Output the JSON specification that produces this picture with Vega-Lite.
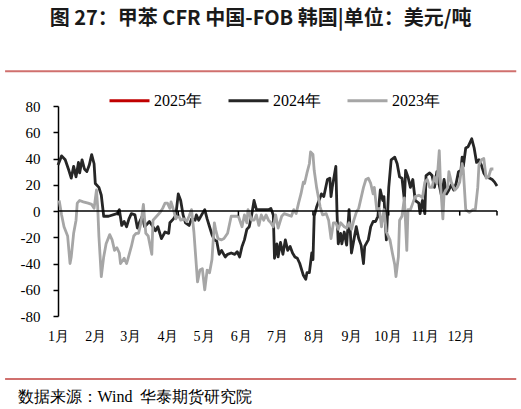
{
  "$schema": "https://vega.github.io/schema/vega-lite/v6.json",
  "width": 439,
  "height": 210,
  "autosize": {"type": "none"},
  "padding": {"left": 58, "top": 106, "right": 24, "bottom": 93},
  "background": "white",
  "title": {
    "text": "图 27：甲苯 CFR 中国-FOB 韩国|单位：美元/吨",
    "font": "Noto Sans CJK SC",
    "fontSize": 20,
    "fontWeight": "bold",
    "color": "#1a1a1a",
    "anchor": "middle",
    "frame": "group",
    "dx": -17,
    "offset": 41
  },
  "datasets": {
    "y2024": [
      {"s": "2024年", "date": "2024/01/01", "v": 35}, {"s": "2024年", "date": "2024/01/04", "v": 42},
      {"s": "2024年", "date": "2024/01/07", "v": 39}, {"s": "2024年", "date": "2024/01/10", "v": 31},
      {"s": "2024年", "date": "2024/01/12", "v": 25}, {"s": "2024年", "date": "2024/01/14", "v": 34},
      {"s": "2024年", "date": "2024/01/16", "v": 26}, {"s": "2024年", "date": "2024/01/18", "v": 37},
      {"s": "2024年", "date": "2024/01/19", "v": 29}, {"s": "2024年", "date": "2024/01/21", "v": 39},
      {"s": "2024年", "date": "2024/01/23", "v": 32}, {"s": "2024年", "date": "2024/01/25", "v": 30},
      {"s": "2024年", "date": "2024/01/27", "v": 35}, {"s": "2024年", "date": "2024/01/29", "v": 43},
      {"s": "2024年", "date": "2024/01/31", "v": 36}, {"s": "2024年", "date": "2024/02/01", "v": 21},
      {"s": "2024年", "date": "2024/02/04", "v": 18}, {"s": "2024年", "date": "2024/02/06", "v": 12},
      {"s": "2024年", "date": "2024/02/08", "v": -4}, {"s": "2024年", "date": "2024/02/12", "v": -4},
      {"s": "2024年", "date": "2024/02/19", "v": -2}, {"s": "2024年", "date": "2024/02/21", "v": 1},
      {"s": "2024年", "date": "2024/02/23", "v": -11}, {"s": "2024年", "date": "2024/02/25", "v": -8},
      {"s": "2024年", "date": "2024/02/27", "v": -12}, {"s": "2024年", "date": "2024/02/29", "v": -6},
      {"s": "2024年", "date": "2024/03/02", "v": -2}, {"s": "2024年", "date": "2024/03/05", "v": -3},
      {"s": "2024年", "date": "2024/03/07", "v": -13}, {"s": "2024年", "date": "2024/03/09", "v": -8},
      {"s": "2024年", "date": "2024/03/11", "v": -4}, {"s": "2024年", "date": "2024/03/13", "v": -12},
      {"s": "2024年", "date": "2024/03/17", "v": -8}, {"s": "2024年", "date": "2024/03/20", "v": -12},
      {"s": "2024年", "date": "2024/03/22", "v": -15}, {"s": "2024年", "date": "2024/03/24", "v": -12},
      {"s": "2024年", "date": "2024/03/27", "v": -21}, {"s": "2024年", "date": "2024/03/30", "v": -16},
      {"s": "2024年", "date": "2024/04/02", "v": -17}, {"s": "2024年", "date": "2024/04/03", "v": -9},
      {"s": "2024年", "date": "2024/04/06", "v": -6}, {"s": "2024年", "date": "2024/04/08", "v": -3},
      {"s": "2024年", "date": "2024/04/10", "v": 13}, {"s": "2024年", "date": "2024/04/12", "v": 8},
      {"s": "2024年", "date": "2024/04/14", "v": -3}, {"s": "2024年", "date": "2024/04/16", "v": -9},
      {"s": "2024年", "date": "2024/04/19", "v": -11}, {"s": "2024年", "date": "2024/04/21", "v": -6},
      {"s": "2024年", "date": "2024/04/24", "v": -7}, {"s": "2024年", "date": "2024/04/25", "v": -3},
      {"s": "2024年", "date": "2024/04/27", "v": -7}, {"s": "2024年", "date": "2024/04/30", "v": -2},
      {"s": "2024年", "date": "2024/05/02", "v": 1}, {"s": "2024年", "date": "2024/05/04", "v": -6},
      {"s": "2024年", "date": "2024/05/06", "v": -12}, {"s": "2024年", "date": "2024/05/08", "v": -18},
      {"s": "2024年", "date": "2024/05/10", "v": -22}, {"s": "2024年", "date": "2024/05/12", "v": -23},
      {"s": "2024年", "date": "2024/05/14", "v": -33}, {"s": "2024年", "date": "2024/05/16", "v": -30},
      {"s": "2024年", "date": "2024/05/19", "v": -35}, {"s": "2024年", "date": "2024/05/21", "v": -33},
      {"s": "2024年", "date": "2024/05/24", "v": -32}, {"s": "2024年", "date": "2024/05/27", "v": -33},
      {"s": "2024年", "date": "2024/05/29", "v": -31}, {"s": "2024年", "date": "2024/05/31", "v": -35},
      {"s": "2024年", "date": "2024/06/02", "v": -27}, {"s": "2024年", "date": "2024/06/04", "v": -22},
      {"s": "2024年", "date": "2024/06/06", "v": -14}, {"s": "2024年", "date": "2024/06/08", "v": -12},
      {"s": "2024年", "date": "2024/06/10", "v": -3}, {"s": "2024年", "date": "2024/06/12", "v": 8},
      {"s": "2024年", "date": "2024/06/14", "v": 1}, {"s": "2024年", "date": "2024/06/18", "v": 1},
      {"s": "2024年", "date": "2024/06/24", "v": 1}, {"s": "2024年", "date": "2024/06/26", "v": 2},
      {"s": "2024年", "date": "2024/06/28", "v": -3}, {"s": "2024年", "date": "2024/06/29", "v": -36},
      {"s": "2024年", "date": "2024/07/01", "v": -25}, {"s": "2024年", "date": "2024/07/02", "v": -35},
      {"s": "2024年", "date": "2024/07/04", "v": -24}, {"s": "2024年", "date": "2024/07/06", "v": -33},
      {"s": "2024年", "date": "2024/07/08", "v": -22}, {"s": "2024年", "date": "2024/07/10", "v": -30},
      {"s": "2024年", "date": "2024/07/12", "v": -27}, {"s": "2024年", "date": "2024/07/14", "v": -32},
      {"s": "2024年", "date": "2024/07/16", "v": -35}, {"s": "2024年", "date": "2024/07/18", "v": -36},
      {"s": "2024年", "date": "2024/07/20", "v": -40}, {"s": "2024年", "date": "2024/07/23", "v": -49},
      {"s": "2024年", "date": "2024/07/25", "v": -52}, {"s": "2024年", "date": "2024/07/26", "v": -47},
      {"s": "2024年", "date": "2024/07/28", "v": -47}, {"s": "2024年", "date": "2024/07/30", "v": -32},
      {"s": "2024年", "date": "2024/07/31", "v": -37}, {"s": "2024年", "date": "2024/08/01", "v": -4},
      {"s": "2024年", "date": "2024/08/03", "v": 3}, {"s": "2024年", "date": "2024/08/05", "v": 8},
      {"s": "2024年", "date": "2024/08/07", "v": 13}, {"s": "2024年", "date": "2024/08/09", "v": 11},
      {"s": "2024年", "date": "2024/08/12", "v": 24}, {"s": "2024年", "date": "2024/08/14", "v": 25},
      {"s": "2024年", "date": "2024/08/15", "v": 11}, {"s": "2024年", "date": "2024/08/16", "v": 18},
      {"s": "2024年", "date": "2024/08/19", "v": 34}, {"s": "2024年", "date": "2024/08/20", "v": -2},
      {"s": "2024年", "date": "2024/08/21", "v": -25}, {"s": "2024年", "date": "2024/08/23", "v": -17},
      {"s": "2024年", "date": "2024/08/24", "v": -25}, {"s": "2024年", "date": "2024/08/26", "v": -16},
      {"s": "2024年", "date": "2024/08/28", "v": -26}, {"s": "2024年", "date": "2024/08/30", "v": 1},
      {"s": "2024年", "date": "2024/09/01", "v": -32}, {"s": "2024年", "date": "2024/09/03", "v": -22},
      {"s": "2024年", "date": "2024/09/05", "v": -12}, {"s": "2024年", "date": "2024/09/07", "v": -21},
      {"s": "2024年", "date": "2024/09/09", "v": -26}, {"s": "2024年", "date": "2024/09/11", "v": -40},
      {"s": "2024年", "date": "2024/09/12", "v": -27}, {"s": "2024年", "date": "2024/09/15", "v": -22},
      {"s": "2024年", "date": "2024/09/17", "v": -12}, {"s": "2024年", "date": "2024/09/19", "v": -8},
      {"s": "2024年", "date": "2024/09/21", "v": -8}, {"s": "2024年", "date": "2024/09/23", "v": -4},
      {"s": "2024年", "date": "2024/09/25", "v": 16}, {"s": "2024年", "date": "2024/09/27", "v": 8},
      {"s": "2024年", "date": "2024/09/28", "v": 11}, {"s": "2024年", "date": "2024/09/30", "v": -22},
      {"s": "2024年", "date": "2024/10/02", "v": 18}, {"s": "2024年", "date": "2024/10/04", "v": 39},
      {"s": "2024年", "date": "2024/10/07", "v": 41}, {"s": "2024年", "date": "2024/10/09", "v": 36},
      {"s": "2024年", "date": "2024/10/11", "v": 26}, {"s": "2024年", "date": "2024/10/13", "v": 25},
      {"s": "2024年", "date": "2024/10/15", "v": 8}, {"s": "2024年", "date": "2024/10/16", "v": 31},
      {"s": "2024年", "date": "2024/10/18", "v": 26}, {"s": "2024年", "date": "2024/10/20", "v": 18},
      {"s": "2024年", "date": "2024/10/22", "v": 24}, {"s": "2024年", "date": "2024/10/24", "v": 8},
      {"s": "2024年", "date": "2024/10/27", "v": 6}, {"s": "2024年", "date": "2024/10/28", "v": -2},
      {"s": "2024年", "date": "2024/10/30", "v": 8}, {"s": "2024年", "date": "2024/11/01", "v": -2},
      {"s": "2024年", "date": "2024/11/02", "v": 27}, {"s": "2024年", "date": "2024/11/05", "v": 29},
      {"s": "2024年", "date": "2024/11/07", "v": 27}, {"s": "2024年", "date": "2024/11/09", "v": 18},
      {"s": "2024年", "date": "2024/11/11", "v": 30}, {"s": "2024年", "date": "2024/11/12", "v": 24},
      {"s": "2024年", "date": "2024/11/15", "v": 11}, {"s": "2024年", "date": "2024/11/17", "v": 24},
      {"s": "2024年", "date": "2024/11/19", "v": 13}, {"s": "2024年", "date": "2024/11/21", "v": 16},
      {"s": "2024年", "date": "2024/11/23", "v": 20}, {"s": "2024年", "date": "2024/11/25", "v": 16},
      {"s": "2024年", "date": "2024/11/27", "v": 21}, {"s": "2024年", "date": "2024/11/29", "v": 30},
      {"s": "2024年", "date": "2024/12/01", "v": 31}, {"s": "2024年", "date": "2024/12/02", "v": 41},
      {"s": "2024年", "date": "2024/12/03", "v": 34}, {"s": "2024年", "date": "2024/12/05", "v": 48},
      {"s": "2024年", "date": "2024/12/07", "v": 49}, {"s": "2024年", "date": "2024/12/10", "v": 55},
      {"s": "2024年", "date": "2024/12/12", "v": 48}, {"s": "2024年", "date": "2024/12/14", "v": 37},
      {"s": "2024年", "date": "2024/12/16", "v": 39}, {"s": "2024年", "date": "2024/12/18", "v": 35},
      {"s": "2024年", "date": "2024/12/20", "v": 29}, {"s": "2024年", "date": "2024/12/22", "v": 26},
      {"s": "2024年", "date": "2024/12/25", "v": 25}, {"s": "2024年", "date": "2024/12/27", "v": 24},
      {"s": "2024年", "date": "2024/12/29", "v": 22}, {"s": "2024年", "date": "2024/12/31", "v": 19}
    ],
    "y2023": [
      {"s": "2023年", "date": "2023/01/02", "v": 8}, {"s": "2023年", "date": "2023/01/04", "v": -3},
      {"s": "2023年", "date": "2023/01/06", "v": -12}, {"s": "2023年", "date": "2023/01/09", "v": -19},
      {"s": "2023年", "date": "2023/01/11", "v": -40}, {"s": "2023年", "date": "2023/01/12", "v": -35},
      {"s": "2023年", "date": "2023/01/14", "v": -17}, {"s": "2023年", "date": "2023/01/16", "v": -7},
      {"s": "2023年", "date": "2023/01/17", "v": 6}, {"s": "2023年", "date": "2023/01/19", "v": 8},
      {"s": "2023年", "date": "2023/01/22", "v": 7}, {"s": "2023年", "date": "2023/01/26", "v": 6},
      {"s": "2023年", "date": "2023/01/29", "v": 5}, {"s": "2023年", "date": "2023/01/31", "v": 2},
      {"s": "2023年", "date": "2023/02/02", "v": 16}, {"s": "2023年", "date": "2023/02/03", "v": 3},
      {"s": "2023年", "date": "2023/02/04", "v": -19}, {"s": "2023年", "date": "2023/02/06", "v": -50},
      {"s": "2023年", "date": "2023/02/08", "v": -35}, {"s": "2023年", "date": "2023/02/10", "v": -25},
      {"s": "2023年", "date": "2023/02/13", "v": -18}, {"s": "2023年", "date": "2023/02/15", "v": -22},
      {"s": "2023年", "date": "2023/02/17", "v": -30}, {"s": "2023年", "date": "2023/02/19", "v": -28},
      {"s": "2023年", "date": "2023/02/21", "v": -32}, {"s": "2023年", "date": "2023/02/22", "v": -40},
      {"s": "2023年", "date": "2023/02/25", "v": -36}, {"s": "2023年", "date": "2023/02/27", "v": -40},
      {"s": "2023年", "date": "2023/02/28", "v": -37}, {"s": "2023年", "date": "2023/03/02", "v": -27},
      {"s": "2023年", "date": "2023/03/04", "v": -19}, {"s": "2023年", "date": "2023/03/06", "v": -17},
      {"s": "2023年", "date": "2023/03/08", "v": -17}, {"s": "2023年", "date": "2023/03/10", "v": -9},
      {"s": "2023年", "date": "2023/03/12", "v": 5}, {"s": "2023年", "date": "2023/03/14", "v": -17},
      {"s": "2023年", "date": "2023/03/16", "v": -19}, {"s": "2023年", "date": "2023/03/19", "v": -33},
      {"s": "2023年", "date": "2023/03/20", "v": -7}, {"s": "2023年", "date": "2023/03/23", "v": -4},
      {"s": "2023年", "date": "2023/03/26", "v": -1}, {"s": "2023年", "date": "2023/03/28", "v": 2},
      {"s": "2023年", "date": "2023/03/30", "v": 6}, {"s": "2023年", "date": "2023/04/01", "v": 6},
      {"s": "2023年", "date": "2023/04/03", "v": 2}, {"s": "2023年", "date": "2023/04/04", "v": 7},
      {"s": "2023年", "date": "2023/04/06", "v": 1}, {"s": "2023年", "date": "2023/04/08", "v": -6},
      {"s": "2023年", "date": "2023/04/10", "v": -3}, {"s": "2023年", "date": "2023/04/12", "v": -7},
      {"s": "2023年", "date": "2023/04/15", "v": -6}, {"s": "2023年", "date": "2023/04/17", "v": -8},
      {"s": "2023年", "date": "2023/04/19", "v": -4}, {"s": "2023年", "date": "2023/04/21", "v": 1},
      {"s": "2023年", "date": "2023/04/23", "v": -16}, {"s": "2023年", "date": "2023/04/26", "v": -54},
      {"s": "2023年", "date": "2023/04/28", "v": -45}, {"s": "2023年", "date": "2023/04/30", "v": -44},
      {"s": "2023年", "date": "2023/05/02", "v": -60}, {"s": "2023年", "date": "2023/05/04", "v": -45},
      {"s": "2023年", "date": "2023/05/06", "v": -47}, {"s": "2023年", "date": "2023/05/08", "v": -37},
      {"s": "2023年", "date": "2023/05/10", "v": -9}, {"s": "2023年", "date": "2023/05/11", "v": -14},
      {"s": "2023年", "date": "2023/05/13", "v": -21}, {"s": "2023年", "date": "2023/05/16", "v": -22},
      {"s": "2023年", "date": "2023/05/18", "v": -21}, {"s": "2023年", "date": "2023/05/21", "v": -17},
      {"s": "2023年", "date": "2023/05/24", "v": -4}, {"s": "2023年", "date": "2023/05/27", "v": -4},
      {"s": "2023年", "date": "2023/05/30", "v": -4}, {"s": "2023年", "date": "2023/06/02", "v": -12},
      {"s": "2023年", "date": "2023/06/04", "v": -3}, {"s": "2023年", "date": "2023/06/06", "v": -9},
      {"s": "2023年", "date": "2023/06/07", "v": 1}, {"s": "2023年", "date": "2023/06/10", "v": -7},
      {"s": "2023年", "date": "2023/06/12", "v": -7}, {"s": "2023年", "date": "2023/06/14", "v": -3},
      {"s": "2023年", "date": "2023/06/16", "v": -11}, {"s": "2023年", "date": "2023/06/18", "v": -3},
      {"s": "2023年", "date": "2023/06/20", "v": -7}, {"s": "2023年", "date": "2023/06/22", "v": -3},
      {"s": "2023年", "date": "2023/06/24", "v": -7}, {"s": "2023年", "date": "2023/06/26", "v": -9},
      {"s": "2023年", "date": "2023/06/28", "v": -12}, {"s": "2023年", "date": "2023/06/30", "v": -3},
      {"s": "2023年", "date": "2023/07/02", "v": -13}, {"s": "2023年", "date": "2023/07/05", "v": -4},
      {"s": "2023年", "date": "2023/07/07", "v": -2}, {"s": "2023年", "date": "2023/07/10", "v": -3},
      {"s": "2023年", "date": "2023/07/13", "v": -4}, {"s": "2023年", "date": "2023/07/15", "v": 1},
      {"s": "2023年", "date": "2023/07/17", "v": -2}, {"s": "2023年", "date": "2023/07/19", "v": 6},
      {"s": "2023年", "date": "2023/07/21", "v": 13}, {"s": "2023年", "date": "2023/07/23", "v": 22},
      {"s": "2023年", "date": "2023/07/24", "v": 21}, {"s": "2023年", "date": "2023/07/26", "v": 29},
      {"s": "2023年", "date": "2023/07/28", "v": 36}, {"s": "2023年", "date": "2023/07/29", "v": 45},
      {"s": "2023年", "date": "2023/07/31", "v": 43}, {"s": "2023年", "date": "2023/08/01", "v": 31},
      {"s": "2023年", "date": "2023/08/03", "v": 18}, {"s": "2023年", "date": "2023/08/05", "v": 8},
      {"s": "2023年", "date": "2023/08/06", "v": 3}, {"s": "2023年", "date": "2023/08/08", "v": -3},
      {"s": "2023年", "date": "2023/08/11", "v": -2}, {"s": "2023年", "date": "2023/08/13", "v": -7},
      {"s": "2023年", "date": "2023/08/15", "v": -21}, {"s": "2023年", "date": "2023/08/17", "v": -9},
      {"s": "2023年", "date": "2023/08/19", "v": -9}, {"s": "2023年", "date": "2023/08/21", "v": -14},
      {"s": "2023年", "date": "2023/08/23", "v": -9}, {"s": "2023年", "date": "2023/08/26", "v": -12},
      {"s": "2023年", "date": "2023/08/28", "v": -13}, {"s": "2023年", "date": "2023/08/30", "v": -9},
      {"s": "2023年", "date": "2023/09/01", "v": -14}, {"s": "2023年", "date": "2023/09/03", "v": -7},
      {"s": "2023年", "date": "2023/09/05", "v": -1}, {"s": "2023年", "date": "2023/09/07", "v": 2},
      {"s": "2023年", "date": "2023/09/09", "v": 10}, {"s": "2023年", "date": "2023/09/11", "v": 18},
      {"s": "2023年", "date": "2023/09/13", "v": 24}, {"s": "2023年", "date": "2023/09/15", "v": 25},
      {"s": "2023年", "date": "2023/09/17", "v": 21}, {"s": "2023年", "date": "2023/09/19", "v": 13},
      {"s": "2023年", "date": "2023/09/20", "v": 18}, {"s": "2023年", "date": "2023/09/22", "v": 1},
      {"s": "2023年", "date": "2023/09/24", "v": 2}, {"s": "2023年", "date": "2023/09/26", "v": -12},
      {"s": "2023年", "date": "2023/09/28", "v": 1}, {"s": "2023年", "date": "2023/09/30", "v": -16},
      {"s": "2023年", "date": "2023/10/03", "v": -22}, {"s": "2023年", "date": "2023/10/05", "v": -32},
      {"s": "2023年", "date": "2023/10/07", "v": -41}, {"s": "2023年", "date": "2023/10/08", "v": -50},
      {"s": "2023年", "date": "2023/10/10", "v": -35}, {"s": "2023年", "date": "2023/10/11", "v": -7},
      {"s": "2023年", "date": "2023/10/13", "v": -4}, {"s": "2023年", "date": "2023/10/15", "v": 10},
      {"s": "2023年", "date": "2023/10/17", "v": -30}, {"s": "2023年", "date": "2023/10/18", "v": 1},
      {"s": "2023年", "date": "2023/10/20", "v": 1}, {"s": "2023年", "date": "2023/10/22", "v": 6},
      {"s": "2023年", "date": "2023/10/24", "v": 11}, {"s": "2023年", "date": "2023/10/27", "v": 12},
      {"s": "2023年", "date": "2023/10/29", "v": 11}, {"s": "2023年", "date": "2023/10/30", "v": 10},
      {"s": "2023年", "date": "2023/11/01", "v": 22}, {"s": "2023年", "date": "2023/11/03", "v": 24},
      {"s": "2023年", "date": "2023/11/05", "v": 18}, {"s": "2023年", "date": "2023/11/07", "v": 18},
      {"s": "2023年", "date": "2023/11/09", "v": 26}, {"s": "2023年", "date": "2023/11/11", "v": 21},
      {"s": "2023年", "date": "2023/11/13", "v": 46}, {"s": "2023年", "date": "2023/11/14", "v": 21},
      {"s": "2023年", "date": "2023/11/16", "v": -6}, {"s": "2023年", "date": "2023/11/17", "v": 13},
      {"s": "2023年", "date": "2023/11/20", "v": 18}, {"s": "2023年", "date": "2023/11/21", "v": 30},
      {"s": "2023年", "date": "2023/11/23", "v": 22}, {"s": "2023年", "date": "2023/11/26", "v": 16},
      {"s": "2023年", "date": "2023/11/28", "v": 18}, {"s": "2023年", "date": "2023/11/30", "v": 22},
      {"s": "2023年", "date": "2023/12/02", "v": 36}, {"s": "2023年", "date": "2023/12/03", "v": 31},
      {"s": "2023年", "date": "2023/12/05", "v": 1}, {"s": "2023年", "date": "2023/12/08", "v": -1},
      {"s": "2023年", "date": "2023/12/11", "v": 1}, {"s": "2023年", "date": "2023/12/13", "v": 1},
      {"s": "2023年", "date": "2023/12/15", "v": 18}, {"s": "2023年", "date": "2023/12/16", "v": 35},
      {"s": "2023年", "date": "2023/12/18", "v": 39}, {"s": "2023年", "date": "2023/12/20", "v": 40},
      {"s": "2023年", "date": "2023/12/22", "v": 25}, {"s": "2023年", "date": "2023/12/24", "v": 26},
      {"s": "2023年", "date": "2023/12/26", "v": 32}, {"s": "2023年", "date": "2023/12/28", "v": 32}
    ],
    "ticks": [
      {"date": "2024/02/20"}, {"date": "2024/04/10"}, {"date": "2024/05/30"},
      {"date": "2024/07/31"}, {"date": "2024/10/02"}, {"date": "2024/11/30"}, {"date": "2024/12/31"}
    ]
  },
  "layer": [
    {
      "data": {"name": "y2024"},
      "mark": {"type": "line", "strokeWidth": 2.8, "strokeJoin": "round"},
      "encoding": {
        "x": {
          "field": "date", "timeUnit": "monthdate", "type": "temporal",
          "scale": {"domain": [{"year": 2012, "month": 1, "date": 1}, {"year": 2012, "month": 12, "date": 31}]},
          "axis": {
            "title": "数据来源：Wind\u00a0\u00a0华泰期货研究院",
            "format": "%-m月",
            "values": [
              {"year": 2012, "month": 1, "date": 1}, {"year": 2012, "month": 2, "date": 1},
              {"year": 2012, "month": 3, "date": 1}, {"year": 2012, "month": 4, "date": 1},
              {"year": 2012, "month": 5, "date": 1}, {"year": 2012, "month": 6, "date": 1},
              {"year": 2012, "month": 7, "date": 1}, {"year": 2012, "month": 8, "date": 1},
              {"year": 2012, "month": 9, "date": 1}, {"year": 2012, "month": 10, "date": 1},
              {"year": 2012, "month": 11, "date": 1}, {"year": 2012, "month": 12, "date": 1}
            ],
            "tickCount": {"interval": "month", "step": 1},
            "labelOverlap": false,
            "titleX": -41, "titleY": 80, "titleAlign": "left", "titleBaseline": "middle"
          }
        },
        "y": {
          "field": "v", "type": "quantitative",
          "scale": {"domain": [-80, 80], "nice": false},
          "axis": {
            "title": null,
            "values": [-80, -60, -40, -20, 0, 20, 40, 60, 80],
            "tickCount": 9,
            "labelExpr": "'' + datum.value"
          }
        },
        "color": {
          "field": "s", "type": "nominal",
          "scale": {"domain": ["2025年", "2024年", "2023年"], "range": ["#C00000", "#262626", "#A6A6A6"]},
          "legend": {
            "title": null, "orient": "none", "legendX": 50, "legendY": -27, "direction": "horizontal",
            "symbolType": "stroke", "symbolSize": 1600, "symbolStrokeWidth": 3,
            "labelOffset": 3, "columnPadding": 20
          }
        }
      }
    },
    {
      "data": {"name": "y2023"},
      "mark": {"type": "line", "strokeWidth": 2.8, "strokeJoin": "round"},
      "encoding": {
        "x": {"field": "date", "timeUnit": "monthdate", "type": "temporal"},
        "y": {"field": "v", "type": "quantitative"},
        "color": {"field": "s", "type": "nominal"}
      }
    },
    {
      "data": {"values": [{}]},
      "mark": {"type": "rule", "color": "#d0706e", "strokeWidth": 2},
      "encoding": {
        "x": {"datum": {"year": 2011, "month": 11, "date": 18}, "type": "temporal"},
        "x2": {"datum": {"year": 2013, "month": 1, "date": 16}},
        "y": {"datum": 106.5, "type": "quantitative"}
      }
    },
    {
      "data": {"values": [{}]},
      "mark": {"type": "rule", "color": "#d0706e", "strokeWidth": 2},
      "encoding": {
        "x": {"datum": {"year": 2011, "month": 11, "date": 18}, "type": "temporal"},
        "x2": {"datum": {"year": 2013, "month": 1, "date": 16}},
        "y": {"datum": -128, "type": "quantitative"}
      }
    },
    {
      "data": {"values": [{}]},
      "mark": {"type": "rule", "color": "#000000", "strokeWidth": 1.5},
      "encoding": {
        "y": {"datum": 0, "type": "quantitative"}
      }
    },
    {
      "data": {"name": "ticks"},
      "mark": {"type": "rule", "color": "#000000", "strokeWidth": 1.5},
      "encoding": {
        "x": {"field": "date", "timeUnit": "monthdate", "type": "temporal"},
        "y": {"datum": 0, "type": "quantitative"},
        "y2": {"datum": -3.5}
      }
    }
  ],
  "config": {
    "view": {"stroke": null},
    "axis": {
      "grid": false,
      "labelFont": "Liberation Serif, Times New Roman, serif",
      "labelColor": "#000000",
      "titleFont": "Liberation Serif, Times New Roman, serif",
      "titleColor": "#000000",
      "titleFontWeight": "normal"
    },
    "axisX": {
      "domain": false,
      "ticks": false,
      "tickSize": 0,
      "labelFontSize": 14,
      "labelPadding": 13,
      "labelOverlap": false,
      "labelFlush": false,
      "titleFontSize": 16
    },
    "axisY": {
      "domainColor": "#000000",
      "domainWidth": 1.5,
      "tickColor": "#000000",
      "tickWidth": 1.5,
      "tickSize": 5,
      "labelPadding": 13,
      "labelFontSize": 15,
      "labelOverlap": false
    },
    "legend": {
      "labelFont": "Liberation Serif, Times New Roman, serif",
      "labelFontSize": 16,
      "labelColor": "#000000"
    }
  }
}
